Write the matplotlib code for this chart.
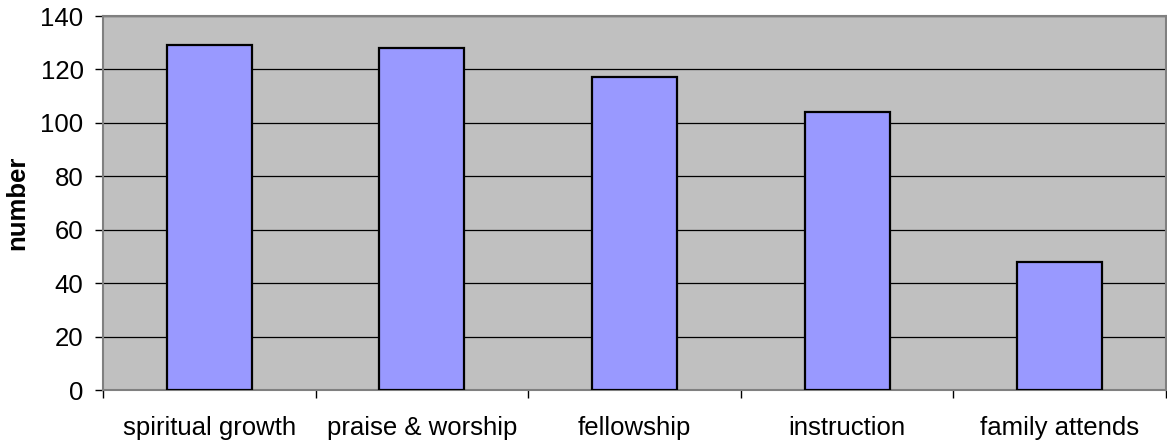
import matplotlib.pyplot as plt
import numpy as np

categorias = ['spiritual growth', 'praise & worship', 'fellowship', 'instruction', 'family attends']
valores = [129, 128, 117, 104, 48]
y_ticks = [0, 20, 40, 60, 80, 100, 120, 140]

plt.rcParams['font.family'] = ['Liberation Sans', 'DejaVu Sans']

fig = plt.figure(figsize=(11.67, 4.45), dpi=100)
ax = fig.add_axes([103 / 1167, 1 - 390 / 445, 1063 / 1167, 374 / 445])

x = np.arange(len(categorias))
ax.set_facecolor('#C0C0C0')
ax.set_axisbelow(True)
ax.yaxis.grid(True, color='black', linewidth=0.9)
ax.bar(x, valores, width=0.4, color='#9999FF', edgecolor='black', linewidth=1.6, zorder=3)

ax.set_xlim(-0.5, len(categorias) - 0.5)
ax.set_ylim(0, 140)
ax.set_yticks(y_ticks)
ax.tick_params(axis='y', labelsize=18.5, length=6, width=1, direction='out', pad=8)

# etiquetas centradas, marcas en los limites de cada categoria
ax.set_xticks(x)
ax.set_xticklabels(categorias)
ax.set_xticks(np.arange(-0.5, len(categorias)), minor=True)
ax.tick_params(axis='x', which='major', length=0, labelsize=18.5, pad=19)
ax.tick_params(axis='x', which='minor', length=6, width=1, direction='out')

for lado in ['left', 'right', 'top', 'bottom']:
    ax.spines[lado].set_color('#808080')
    ax.spines[lado].set_linewidth(1.5)

ax.set_ylabel('number', fontsize=18.5, fontweight='bold', labelpad=8)

fig.savefig('out.png', dpi=100)
